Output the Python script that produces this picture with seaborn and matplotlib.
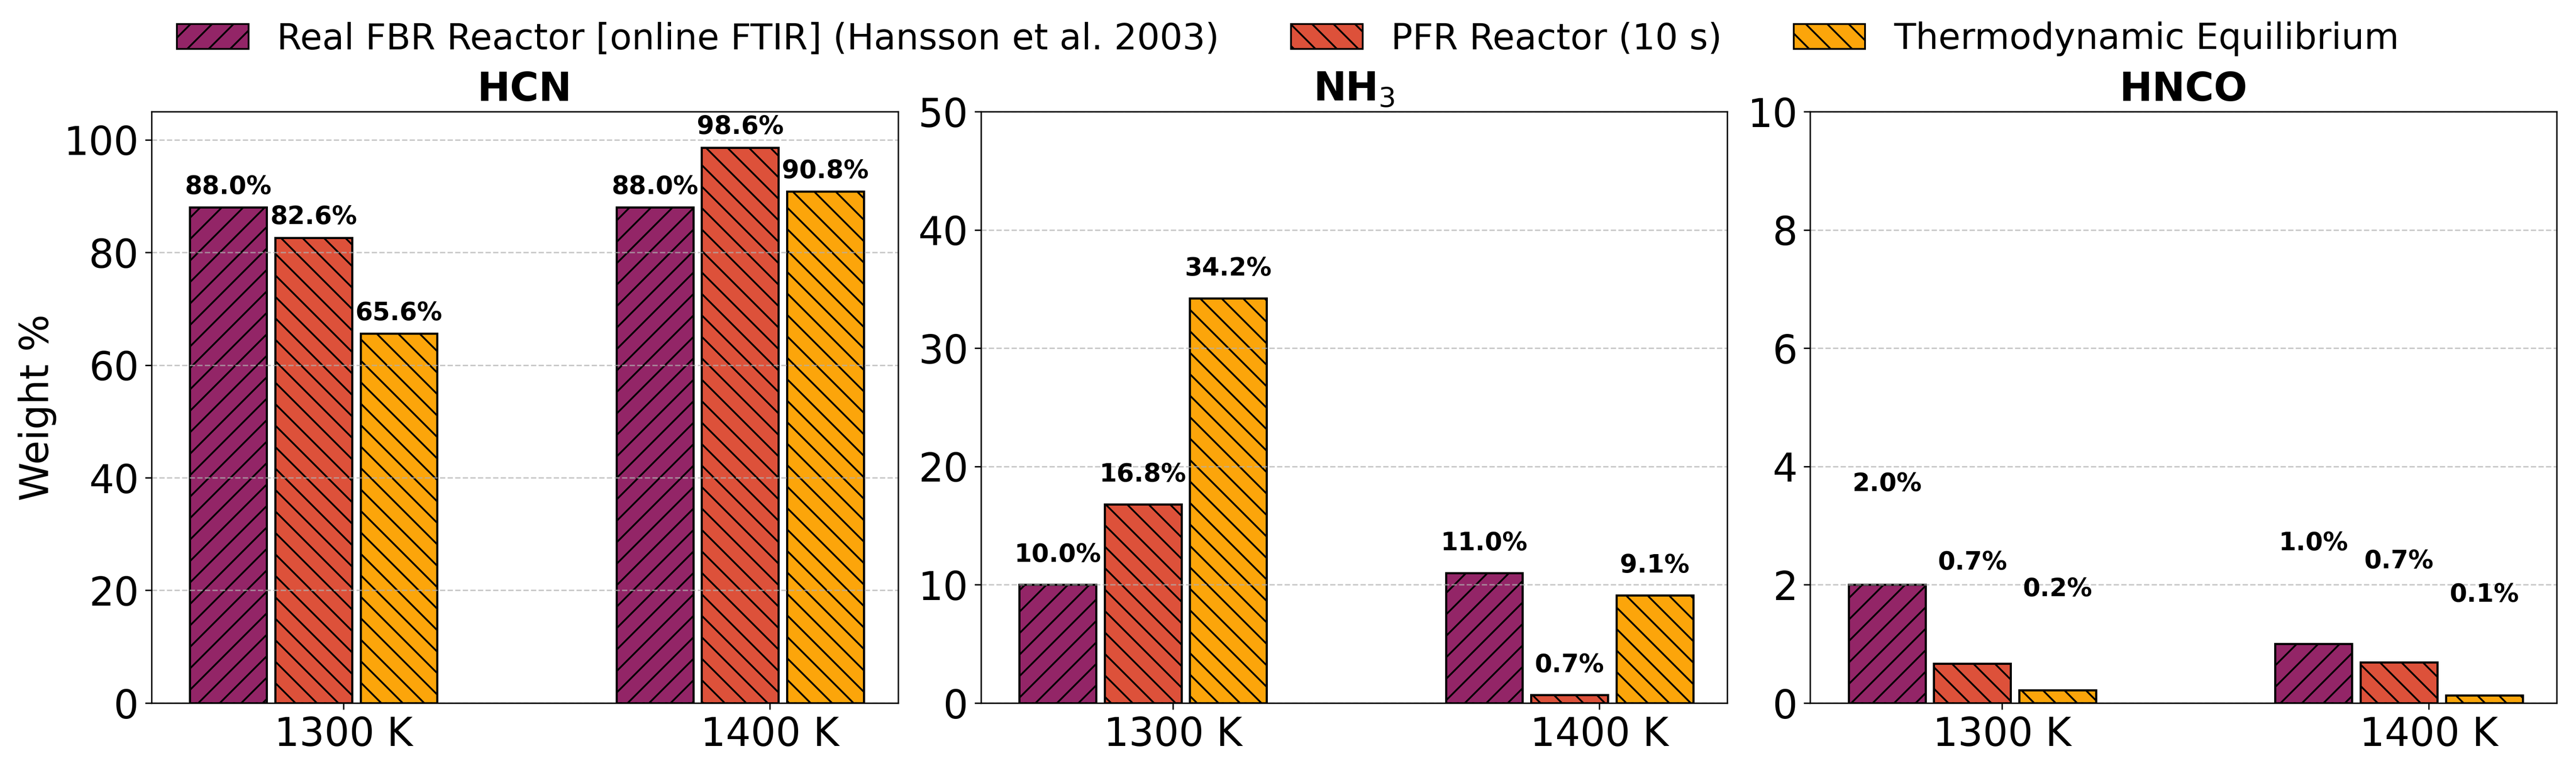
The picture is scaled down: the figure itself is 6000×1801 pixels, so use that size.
import numpy as np
import pandas as pd
import seaborn as sns
import matplotlib.pyplot as plt
from matplotlib.colors import to_rgb
from matplotlib.patches import Patch


temps = ['1300 K', '1400 K']
species = ['HCN', 'NH$_3$', 'HNCO']
series = ['Real FBR Reactor [online FTIR] (Hansson et al. 2003)',
          'PFR Reactor (10 s)',
          'Thermodynamic Equilibrium']

# weight % per temperature (1300 K, 1400 K)
hcn_fbr = [88.0, 88.0]
hcn_pfr = [82.6, 98.6]
hcn_eq = [65.6, 90.8]

nh3_fbr = [10.0, 11.0]
nh3_pfr = [16.8, 0.7]
nh3_eq = [34.2, 9.1]

hnco_fbr = [2.0, 1.0]
hnco_pfr = [0.67, 0.69]
hnco_eq = [0.22, 0.13]

ylims = [105, 50, 10]
yticks = [np.arange(0, 101, 20), np.arange(0, 51, 10), np.arange(0, 11, 2)]

colors = ['#932567', '#DD513A', '#FCA50A']
hatches = ['//', '\\\\', '\\\\']
offsets = [-0.27, -0.07, 0.13]

panels = [[hcn_fbr, hcn_pfr, hcn_eq],
          [nh3_fbr, nh3_pfr, nh3_eq],
          [hnco_fbr, hnco_pfr, hnco_eq]]

fig, axes = plt.subplots(1, 3, figsize=(20, 6.004), dpi=300)
fig.subplots_adjust(left=0.0588, right=0.9925, bottom=0.0905, top=0.8556, wspace=0.111)

for i, ax in enumerate(axes):
    rows = []
    for s, vals in enumerate(panels[i]):
        for t, v in enumerate(vals):
            rows.append({'x': t + offsets[s], 'value': v, 'series': series[s]})
    df = pd.DataFrame(rows)

    sns.barplot(data=df, x='x', y='value', hue='series', hue_order=series,
                palette=colors, saturation=1, native_scale=True, dodge=False,
                width=0.9, edgecolor='black', linewidth=1.2, legend=False, ax=ax)

    # hatch by colour
    for p in ax.patches:
        fc = np.array(p.get_facecolor()[:3])
        for c, h in zip(colors, hatches):
            if np.allclose(fc, to_rgb(c), atol=0.02):
                p.set_hatch(h)

    # value labels
    for _, r in df.iterrows():
        ax.text(r['x'], r['value'] + 1.5, '{:.1f}%'.format(r['value']),
                ha='center', va='bottom', fontsize=14, fontweight='bold')

    ax.set_ylim(0, ylims[i])
    ax.set_yticks(yticks[i])
    ax.set_xlim(-0.45, 1.30)
    ax.set_xticks([0, 1])
    ax.set_xticklabels(temps)
    ax.tick_params(axis='both', labelsize=22)
    ax.grid(axis='y', linestyle='--', alpha=0.7)
    ax.set_title(species[i], fontsize=22, fontweight='bold')
    ax.set_xlabel('')
    if i == 0:
        ax.set_ylabel('Weight %', fontsize=22)
    else:
        ax.set_ylabel('')

handles = [Patch(facecolor=c, edgecolor='black', hatch=h) for c, h in zip(colors, hatches)]
fig.legend(handles, series, loc='center', bbox_to_anchor=(0.5, 0.9495),
           ncol=3, frameon=False, fontsize=20)

fig.savefig('out.png', dpi=300)
